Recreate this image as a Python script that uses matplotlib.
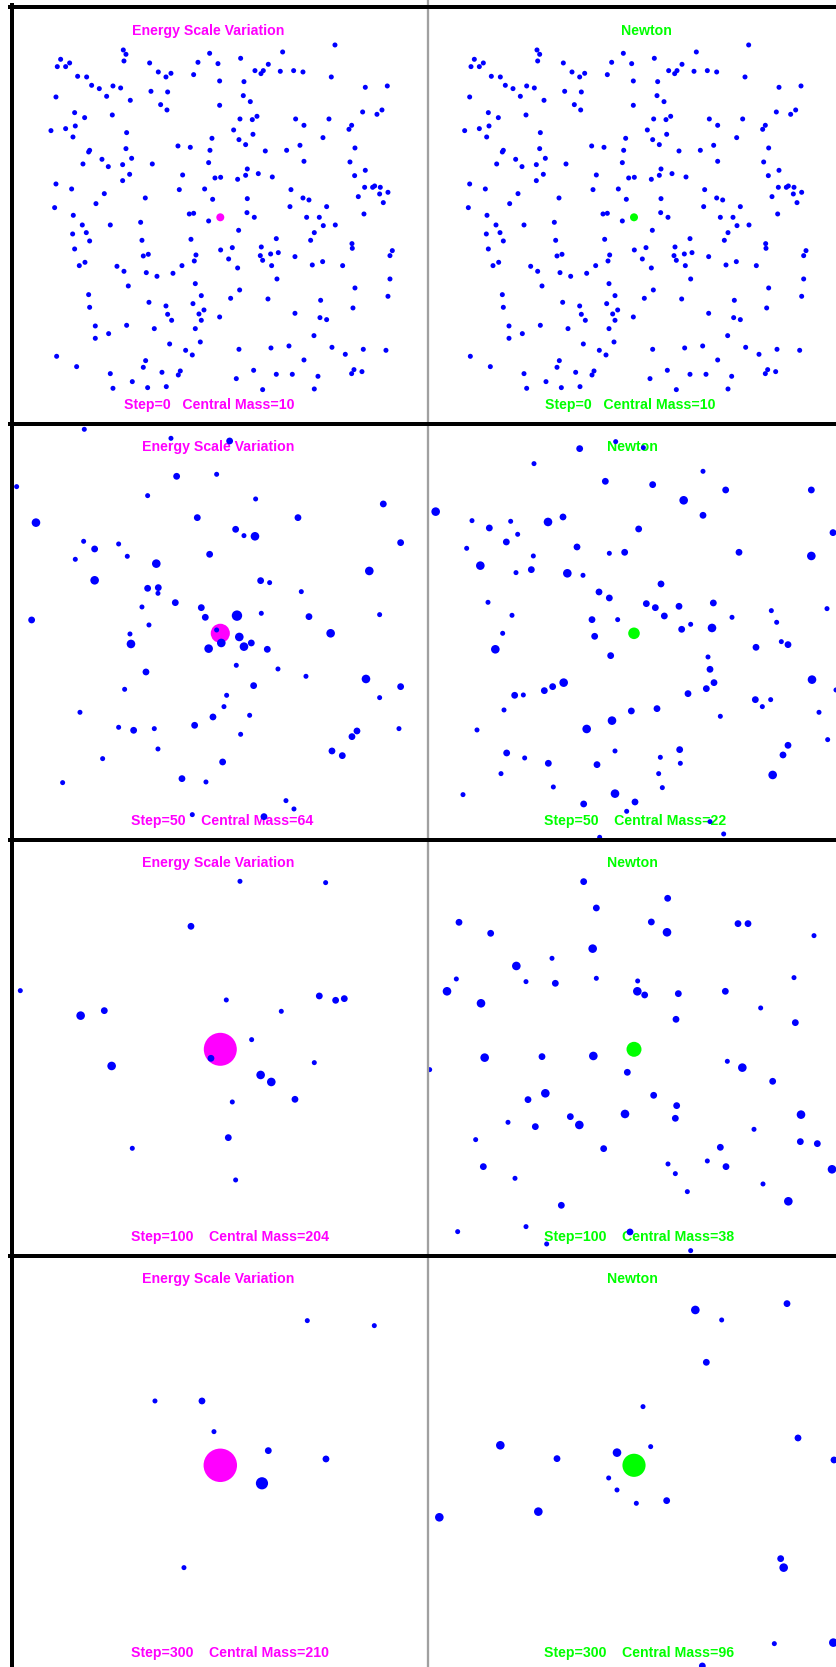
import matplotlib
matplotlib.use("Agg")
import matplotlib.pyplot as plt
from matplotlib.lines import Line2D

W, H, DPI = 836, 1667, 100

# ---------------- data ----------------
steps = [0, 50, 100, 300]
esv_central = [10, 64, 204, 210]
newton_central = [10, 22, 38, 96]
model_names = ["Energy Scale Variation", "Newton"]

# initial particle positions (identical in both models), all unit mass
step0_pts = [
    (344, 517), (-291, 502), (-32, 492), (187, 496), (-479, 474), (-283, 489), (-289, 469), (61, 477),
    (-489, 452), (-464, 452), (-452, 463), (-212, 463), (-67, 465), (-7, 461), (144, 459), (-186, 436),
    (-163, 421), (-148, 432), (-80, 428), (104, 440), (122, 431), (129, 440), (180, 438), (220, 440),
    (248, 436), (333, 421), (-428, 423), (-401, 421), (-386, 396), (-363, 386), (-322, 394), (-299, 388),
    (-341, 363), (-270, 351), (-208, 378), (-158, 376), (-2, 409), (71, 407), (435, 390), (501, 394),
    (-493, 361), (-179, 338), (-160, 322), (-2, 336), (69, 365), (90, 347), (-437, 314), (-407, 299),
    (-324, 307), (427, 316), (470, 309), (485, 322), (59, 295), (96, 293), (110, 303), (226, 295),
    (326, 295), (-508, 260), (-464, 266), (-435, 274), (-442, 241), (-281, 254), (40, 262), (251, 276),
    (394, 276), (386, 264), (-25, 237), (56, 233), (98, 249), (308, 239), (76, 218), (-127, 214),
    (-90, 210), (-31, 201), (135, 199), (199, 201), (239, 216), (404, 208), (-283, 206), (-392, 201),
    (-395, 196), (-412, 160), (-355, 174), (-336, 152), (-293, 158), (-266, 177), (-204, 160), (-35, 164),
    (251, 168), (389, 166), (-272, 129), (-293, 110), (-113, 127), (-16, 118), (1, 120), (52, 114),
    (76, 126), (81, 145), (114, 131), (156, 121), (403, 125), (435, 141), (-493, 100), (-446, 85),
    (-123, 83), (-47, 85), (212, 83), (433, 90), (457, 90), (463, 94), (480, 90), (478, 70),
    (503, 75), (-348, 71), (-225, 58), (-23, 54), (81, 56), (248, 58), (266, 52), (414, 62),
    (-497, 29), (-373, 41), (209, 32), (319, 32), (489, 44), (-441, 6), (-93, 10), (-80, 12),
    (80, 14), (102, 0), (259, 0), (297, 0), (431, 10), (-35, -11), (-414, -23), (-330, -23),
    (-239, -15), (309, -25), (345, -23), (-443, -50), (-402, -46), (55, -39), (282, -46), (-392, -71),
    (-235, -69), (-88, -66), (168, -64), (271, -69), (395, -79), (396, -93), (-437, -95), (1, -98),
    (36, -91), (123, -89), (174, -106), (151, -110), (516, -100), (509, -115), (-231, -116), (-216, -111),
    (-73, -113), (-78, -131), (25, -125), (120, -115), (127, -129), (224, -118), (-423, -145), (-406, -135),
    (-310, -147), (-115, -145), (52, -152), (154, -145), (276, -143), (307, -133), (367, -145), (-289, -162),
    (-222, -166), (-190, -177), (-142, -168), (-75, -199), (170, -185), (509, -185), (-276, -206), (404, -212),
    (-395, -232), (-57, -235), (31, -243), (58, -218), (143, -245), (301, -249), (503, -237), (-392, -270),
    (-214, -255), (-163, -266), (-82, -259), (398, -272), (-158, -291), (-64, -290), (-49, -278), (224, -288),
    (-146, -309), (-57, -309), (-2, -299), (299, -301), (319, -307), (-375, -326), (-281, -324), (-198, -334),
    (-75, -334), (-335, -349), (-375, -363), (281, -355), (-152, -380), (-60, -374), (56, -396), (152, -392),
    (206, -386), (335, -390), (429, -396), (497, -399), (-104, -399), (-84, -413), (375, -411), (-491, -417),
    (251, -428), (-431, -448), (-224, -430), (-231, -450), (-330, -469), (-175, -465), (-120, -461), (-126, -473),
    (100, -459), (168, -471), (216, -471), (293, -477), (394, -469), (401, -457), (425, -463), (-264, -493),
    (48, -484), (-322, -513), (-218, -511), (-162, -508), (127, -517), (282, -515),
]

# (x, y, mass) of particles at later steps
esv50_pts = [
    (-408, 612, 1), (-148, 585, 1), (28, 577, 2), (-611, 440, 1), (-131, 471, 2), (-11, 477, 1),
    (-218, 413, 1), (106, 403, 1), (489, 388, 2), (-553, 332, 3), (-69, 347, 2), (233, 347, 2),
    (46, 312, 2), (71, 293, 1), (104, 291, 3), (-410, 276, 1), (-377, 253, 2), (-305, 268, 1),
    (-279, 231, 1), (-435, 222, 1), (541, 272, 2), (-192, 209, 3), (-32, 237, 2), (447, 187, 3),
    (-377, 159, 3), (-218, 135, 2), (-186, 137, 2), (-187, 120, 1), (121, 158, 2), (148, 152, 1),
    (243, 125, 1), (-135, 92, 2), (-235, 79, 1), (-57, 77, 2), (-45, 48, 2), (50, 53, 4),
    (123, 60, 1), (266, 50, 2), (478, 56, 1), (-566, 40, 2), (-214, 25, 1), (-271, -2, 1),
    (-11, 10, 1), (331, 0, 3), (-268, -32, 3), (57, -11, 3), (3, -29, 3), (-35, -46, 3),
    (71, -40, 3), (93, -29, 2), (141, -48, 2), (48, -96, 1), (173, -107, 1), (257, -129, 1),
    (-223, -116, 2), (437, -137, 3), (541, -160, 2), (100, -157, 2), (-287, -168, 1), (19, -186, 1),
    (478, -193, 1), (11, -220, 1), (-421, -237, 1), (88, -246, 1), (-22, -251, 2), (-77, -276, 2),
    (-305, -282, 1), (-260, -291, 2), (-198, -286, 1), (61, -303, 1), (410, -293, 2), (395, -310, 2),
    (536, -286, 1), (-187, -347, 1), (335, -353, 2), (366, -367, 2), (-353, -376, 1), (7, -386, 2),
    (-115, -436, 2), (-43, -446, 1), (-473, -448, 1), (197, -502, 1), (221, -527, 1), (-84, -544, 1),
    (131, -550, 2),
]

newton50_pts = [
    (-55, 575, 1), (-163, 554, 2), (28, 557, 1), (-300, 509, 1), (-86, 456, 2), (56, 446, 2),
    (207, 486, 1), (275, 430, 2), (532, 430, 2), (-595, 365, 3), (149, 399, 3), (207, 354, 2),
    (-486, 338, 1), (-434, 316, 2), (-370, 336, 1), (-258, 334, 3), (-213, 349, 2), (-349, 297, 1),
    (14, 313, 2), (597, 302, 2), (-502, 255, 1), (-383, 274, 2), (-171, 259, 2), (-302, 232, 1),
    (-74, 240, 1), (-28, 243, 2), (315, 243, 2), (532, 232, 3), (-461, 203, 3), (-308, 191, 2),
    (-354, 182, 1), (-200, 180, 3), (-153, 174, 1), (81, 148, 2), (-105, 124, 2), (-74, 106, 2),
    (-438, 93, 1), (37, 89, 2), (64, 77, 2), (135, 81, 2), (238, 91, 2), (412, 68, 1),
    (579, 74, 1), (-366, 54, 1), (-126, 41, 2), (-49, 41, 1), (91, 52, 2), (294, 48, 1),
    (428, 33, 1), (-394, 0, 1), (-118, -9, 2), (143, 12, 2), (170, 27, 1), (234, 16, 3),
    (442, -25, 1), (462, -34, 2), (-416, -48, 3), (366, -42, 2), (-70, -67, 2), (222, -71, 1),
    (228, -108, 2), (240, -148, 2), (534, -139, 3), (606, -170, 1), (-211, -148, 3), (-244, -160, 2),
    (-269, -172, 2), (-358, -186, 2), (-332, -185, 1), (162, -181, 2), (217, -166, 2), (364, -199, 2),
    (385, -220, 1), (410, -199, 1), (-390, -230, 1), (-8, -233, 2), (69, -226, 2), (259, -249, 1),
    (555, -237, 1), (-66, -262, 3), (-142, -287, 3), (-471, -290, 1), (581, -319, 1), (-382, -359, 2),
    (-328, -374, 1), (-57, -353, 1), (137, -349, 2), (462, -336, 2), (447, -365, 2), (-257, -390, 2),
    (-111, -394, 2), (79, -372, 1), (139, -390, 1), (-399, -421, 1), (74, -421, 1), (416, -425, 3),
    (-242, -461, 1), (85, -463, 1), (-513, -484, 1), (-57, -481, 3), (-151, -512, 2), (3, -506, 2),
    (-22, -534, 1), (228, -565, 1), (269, -602, 1), (-103, -612, 1),
]

esv100_pts = [
    (59, 504, 1), (316, 500, 1), (-88, 369, 2), (-600, 176, 1), (-419, 101, 3), (-348, 116, 2),
    (18, 148, 1), (297, 160, 2), (346, 147, 2), (372, 152, 2), (183, 114, 1), (94, 29, 1),
    (-28, -27, 2), (-326, -50, 3), (282, -40, 1), (121, -77, 3), (153, -98, 3), (224, -150, 2),
    (36, -158, 1), (24, -265, 2), (-264, -297, 1), (46, -392, 1),
]

newton100_pts = [
    (-151, 503, 2), (101, 453, 2), (-113, 424, 2), (-525, 381, 2), (-430, 348, 2), (52, 382, 2),
    (99, 351, 3), (312, 377, 2), (342, 377, 2), (540, 341, 1), (-124, 302, 3), (-246, 273, 1),
    (-353, 250, 3), (-533, 211, 1), (-324, 203, 1), (-236, 198, 2), (-113, 213, 1), (11, 205, 1),
    (10, 174, 3), (32, 163, 2), (133, 167, 2), (274, 174, 2), (480, 215, 1), (-561, 174, 3),
    (-459, 138, 3), (380, 124, 1), (126, 90, 2), (484, 80, 2), (-448, -25, 3), (-276, -22, 2),
    (-122, -20, 3), (-613, -61, 1), (-20, -69, 2), (280, -36, 1), (325, -55, 3), (416, -96, 2),
    (-266, -132, 3), (-318, -151, 2), (59, -138, 2), (128, -169, 2), (-27, -194, 3), (501, -196, 3),
    (-378, -219, 1), (-191, -202, 2), (-164, -227, 3), (-296, -232, 2), (124, -207, 2), (360, -240, 1),
    (-475, -271, 1), (-91, -298, 2), (259, -294, 2), (499, -277, 2), (550, -283, 2), (-452, -352, 2),
    (102, -344, 1), (220, -335, 1), (276, -352, 2), (594, -360, 3), (-357, -387, 1), (124, -373, 1),
    (387, -404, 1), (160, -427, 1), (463, -456, 3), (-218, -468, 2), (-529, -547, 1), (-324, -532, 1),
    (-12, -548, 2), (-262, -584, 1), (170, -604, 1),
]

esv300_pts = [
    (261, 434, 1), (462, 419, 1), (-196, 193, 1), (-55, 193, 2), (-19, 101, 1), (144, 44, 2),
    (317, 19, 2), (125, -54, 5), (-109, -307, 1),
]

newton300_pts = [
    (184, 466, 3), (263, 436, 1), (459, 485, 2), (217, 309, 2), (27, 176, 1), (492, 82, 2),
    (-401, 60, 3), (-231, 20, 2), (-51, 38, 3), (50, 56, 1), (600, 16, 2), (-76, -38, 1),
    (-51, -74, 1), (7, -114, 1), (98, -106, 2), (-584, -156, 3), (-287, -139, 3), (440, -280, 2),
    (449, -307, 3), (421, -535, 1), (598, -532, 3), (205, -602, 2),
]

# ---------------- styling ----------------
BLUE = "#0000ff"
MODEL_COLORS = ["#ff00ff", "#00ff00"]
FONT = dict(family="Liberation Sans", fontweight="bold", fontsize=10.2)

fig = plt.figure(figsize=(W / DPI, H / DPI), dpi=DPI)
fig.patch.set_facecolor("white")

ROW_H = 416
COLS = [dict(x0=12, x1=428, cx=220.3), dict(x0=428, x1=844, cx=634.0)]


def fx(x):
    return x / W


def fy(y):
    return 1 - y / H


def particle_size(m):
    d_px = 3.2 + 1.8 * m
    return (d_px * 72 / DPI) ** 2


def central_size(M):
    d_px = 2.71 * M ** 0.47
    return (d_px * 72 / DPI) ** 2


def make_ax(col, row):
    c = COLS[col]
    y0 = 7 + ROW_H * row
    y1 = y0 + ROW_H
    cy = 217.3 + ROW_H * row
    ax = fig.add_axes([fx(c["x0"]), fy(y1), (c["x1"] - c["x0"]) / W, ROW_H / H])
    ax.set_xlim((c["x0"] - c["cx"]) * 3, (c["x1"] - c["cx"]) * 3)
    ax.set_ylim(-(y1 - cy) * 3, (cy - y0) * 3)
    ax.axis("off")
    return ax


panel_pts = [
    [[(x, y, 1) for x, y in step0_pts], [(x, y, 1) for x, y in step0_pts]],
    [esv50_pts, newton50_pts],
    [esv100_pts, newton100_pts],
    [esv300_pts, newton300_pts],
]
centrals = [esv_central, newton_central]

title_x = [[131.7, 621.0]] + [[142.3, 606.7]] * 3
foot_x = [[124.0, 544.6]] + [[131.0, 544.3]] * 3
foot_gap = ["   "] + ["    "] * 3

for row, step in enumerate(steps):
    for col in range(2):
        ax = make_ax(col, row)
        color = MODEL_COLORS[col]
        M = centrals[col][row]
        ax.scatter([0], [0], s=central_size(M), c=color, edgecolors="none", zorder=2)
        pts = panel_pts[row][col]
        xs = [p[0] for p in pts]
        ys = [p[1] for p in pts]
        ms = [particle_size(p[2]) for p in pts]
        ax.scatter(xs, ys, s=ms, c=BLUE, edgecolors="none", zorder=3)
        ax.text(fx(title_x[row][col]), fy(34.8 + ROW_H * row), model_names[col],
                transform=fig.transFigure, ha="left", va="baseline", color=color,
                zorder=1, **FONT)
        ax.text(fx(foot_x[row][col]), fy(408.5 + ROW_H * row),
                f"Step={step}{foot_gap[row]}Central Mass={M}",
                transform=fig.transFigure, ha="left", va="baseline", color=color,
                zorder=1, **FONT)

# frame lines
px_pt = 72 / DPI
fig.add_artist(Line2D([fx(428), fx(428)], [0, 1], color="#a0a0a0", lw=2.3 * px_pt,
                      transform=fig.transFigure, zorder=5))
for yline in [7, 424, 840, 1256]:
    fig.add_artist(Line2D([fx(10), 1], [fy(yline), fy(yline)], color="black",
                          lw=4 * px_pt, transform=fig.transFigure, zorder=6))
fig.add_artist(Line2D([fx(12), fx(12)], [fy(5), 0], color="black", lw=4 * px_pt,
                      transform=fig.transFigure, zorder=6))

fig.savefig("out.png", dpi=DPI, facecolor="white")
